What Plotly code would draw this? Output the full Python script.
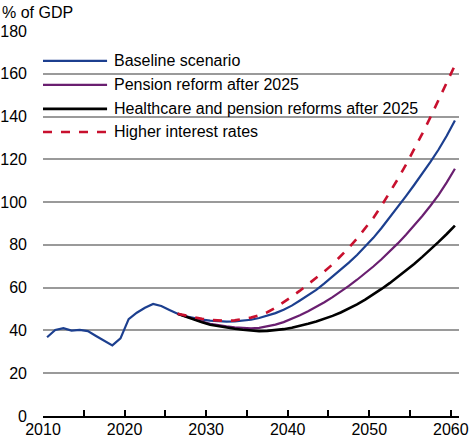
import plotly.graph_objects as go

# ---------------- data ----------------
hist_years = list(range(2010, 2026))
baseline_hist = [36.8, 40.2, 41.1, 39.9, 40.3, 39.7, 37.4, 35.2, 33.0, 36.3,
                 45.3, 48.3, 50.6, 52.4, 51.4, 49.6]

proj_years = list(range(2026, 2061))
baseline_proj = [47.8, 46.6, 45.7, 45.1, 44.6, 44.3, 44.1, 44.2, 44.5, 45.0,
                 45.8, 46.8, 48.1, 49.7, 51.6, 54.0, 56.4, 59.0, 62.0, 65.2,
                 68.3, 71.7, 75.3, 79.1, 83.3, 87.9, 92.7, 97.7, 102.8, 108.0,
                 113.3, 118.8, 124.6, 131.0, 138.2]
pension_reform = [47.8, 46.5, 45.2, 44.1, 43.1, 42.4, 41.9, 41.5, 41.1, 41.0,
                  41.2, 41.8, 42.7, 43.9, 45.4, 47.1, 49.0, 51.0, 53.2, 55.6,
                  58.1, 60.8, 63.7, 66.7, 69.9, 73.3, 76.9, 80.7, 84.7, 89.0,
                  93.5, 98.3, 103.4, 109.2, 115.6]
health_pension = [47.8, 46.4, 45.0, 43.8, 42.7, 42.0, 41.5, 40.8, 40.3, 39.9,
                  39.7, 39.8, 40.1, 40.6, 41.3, 42.1, 43.1, 44.2, 45.4, 46.8,
                  48.4, 50.2, 52.2, 54.4, 56.8, 59.4, 62.1, 65.0, 68.0, 71.1,
                  74.4, 77.8, 81.4, 85.1, 89.0]
higher_rates = [47.8, 46.9, 46.0, 45.4, 44.9, 44.6, 44.5, 44.7, 45.2, 46.0,
                47.1, 48.5, 50.6, 53.0, 55.8, 58.6, 61.5, 64.5, 67.6, 70.9,
                74.7, 78.7, 83.0, 87.6, 92.6, 98.3, 104.4, 110.8, 117.5, 124.6,
                132.0, 139.7, 147.7, 155.8, 164.0]

series_names = ["Baseline scenario", "Pension reform after 2025",
                "Healthcare and pension reforms after 2025", "Higher interest rates"]
series_colors = ["#1c3f8f", "#6a1f70", "#000000", "#c8102e"]
series_dash = ["solid", "solid", "solid", "dash"]
series_width = [2.2, 2.2, 2.6, 2.6]

x_ticks = list(range(2010, 2061, 5))
x_tick_labels = [str(v) if v % 10 == 0 else "" for v in x_ticks]
y_ticks = list(range(0, 181, 20))
y_title = "% of GDP"

FONT = "Liberation Sans, Arial, sans-serif"

# annual values plotted at mid-year
def mid(years):
    return [y + 0.5 for y in years]

fig = go.Figure()

all_years = hist_years + proj_years
baseline_all = baseline_hist + baseline_proj
traces = [
    (all_years, baseline_all),
    (proj_years, pension_reform),
    (proj_years, health_pension),
    (proj_years, higher_rates),
]
for i, (xs, ys) in enumerate(traces):
    fig.add_trace(go.Scatter(
        x=mid(xs), y=ys, mode="lines", name=series_names[i],
        line=dict(color=series_colors[i], width=series_width[i], dash=series_dash[i]),
        showlegend=False,
    ))

# legend drawn as shapes + text (long line samples as in the original)
legend_y = [166.0, 154.8, 143.6, 132.8]
for i, name in enumerate(series_names):
    fig.add_shape(type="line", xref="paper", yref="y", x0=0.0, x1=0.154,
                  y0=legend_y[i], y1=legend_y[i],
                  line=dict(color=series_colors[i], width=series_width[i],
                            dash=series_dash[i]))
    fig.add_annotation(xref="paper", yref="y", x=0.168, y=legend_y[i],
                       text=name, showarrow=False, xanchor="left", yanchor="middle",
                       borderpad=0,
                       font=dict(family=FONT, size=16, color="#000000"))

fig.add_annotation(xref="paper", yref="paper", x=0, y=1, xshift=-42, yshift=9,
                   text=y_title, showarrow=False, xanchor="left", yanchor="bottom",
                   borderpad=0,
                   font=dict(family=FONT, size=16, color="#000000"))

fig.update_layout(
    width=474, height=440,
    margin=dict(l=43, r=15, t=31, b=24, autoexpand=False),
    paper_bgcolor="white", plot_bgcolor="white",
    font=dict(family=FONT, size=16, color="#000000"),
    showlegend=False,
    xaxis=dict(range=[2010, 2061], tickmode="array", tickvals=x_ticks,
               ticktext=x_tick_labels, ticks="inside", ticklen=6, tickwidth=1.5,
               tickcolor="#000000", showline=True, linecolor="#000000", linewidth=2,
               showgrid=False, zeroline=False, ticklabelstandoff=-2, automargin=False,
               tickfont=dict(family=FONT, size=16, color="#000000")),
    yaxis=dict(range=[0, 180], tickmode="array", tickvals=y_ticks,
               showgrid=True, gridcolor="#9a9a9a", gridwidth=1.5, zeroline=False,
               showline=False, ticks="", ticklabelstandoff=15, automargin=False,
               tickfont=dict(family=FONT, size=16, color="#000000")),
)

fig.write_html("out.html", config={"displayModeBar": False},
               post_script="document.body.style.margin='0';document.body.style.padding='0';")
